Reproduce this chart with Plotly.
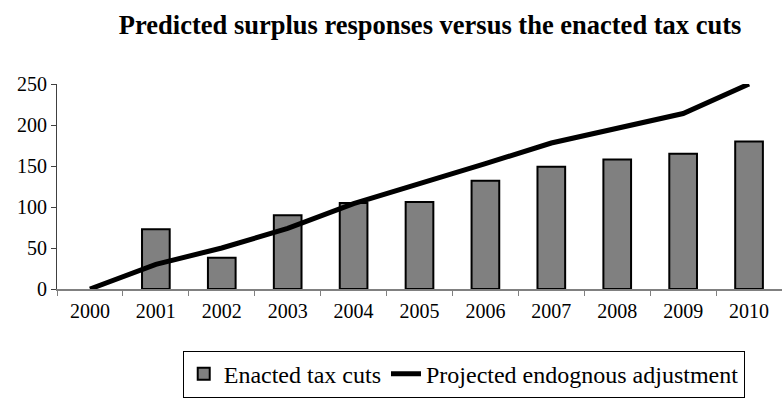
import plotly.graph_objects as go

years = ["2000", "2001", "2002", "2003", "2004", "2005", "2006", "2007", "2008", "2009", "2010"]
enacted = [None, 73, 38, 90, 105, 106, 132, 149, 158, 165, 180]
projected = [0, 30, 50, 74, 104, 128, 153, 178, 196, 214, 250]

FONT = "Liberation Serif"

fig = go.Figure()
fig.add_trace(go.Bar(
    x=years, y=enacted, name="Enacted tax cuts",
    marker=dict(color="#808080", line=dict(color="black", width=2)),
    width=0.42,
))
fig.add_trace(go.Scatter(
    x=years, y=projected, name="Projected endognous adjustment",
    mode="lines", line=dict(color="black", width=5),
))

fig.update_layout(
    width=782, height=398,
    margin=dict(l=57, r=0, t=84, b=109),
    paper_bgcolor="white", plot_bgcolor="white",
    font=dict(family=FONT, size=20, color="black"),
    title=dict(
        text="<b>Predicted surplus responses versus the enacted tax cuts</b>",
        x=0.55, xanchor="center", y=0.938, yanchor="middle",
        font=dict(family=FONT, size=26.5, color="black"),
    ),
    showlegend=True,
    legend=dict(
        orientation="h", x=0.561, xanchor="center", y=-0.53, yanchor="bottom",
        bordercolor="black", borderwidth=1, font=dict(family=FONT, size=24),
        itemwidth=30, tracegroupgap=0,
    ),
    xaxis=dict(
        type="category", range=[-0.5, 10.5], tickson="boundaries",
        ticks="outside", ticklen=5, tickcolor="#808080",
        showline=True, linecolor="#808080", linewidth=1.5,
        showgrid=False, tickfont=dict(family=FONT, size=20),
        ticklabelstandoff=3,
    ),
    yaxis=dict(
        range=[0, 250], dtick=50, ticks="outside", ticklen=5, tickcolor="#404040",
        showline=True, linecolor="#404040", linewidth=1,
        showgrid=False, zeroline=False, tickfont=dict(family=FONT, size=20),
    ),
    bargap=0.58,
)

fig.write_html("out.html")
